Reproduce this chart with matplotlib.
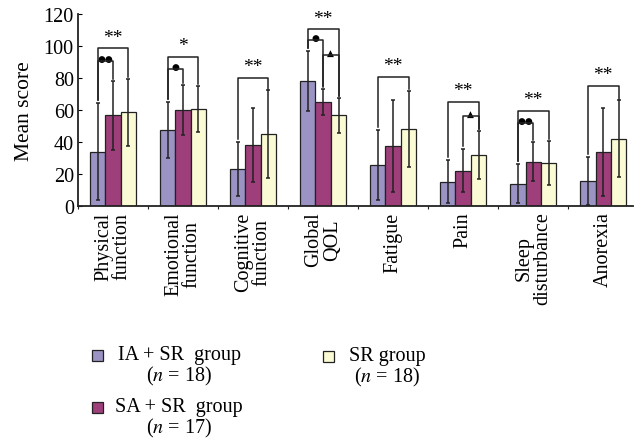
import matplotlib
matplotlib.use("Agg")
import matplotlib.pyplot as plt
from matplotlib.patches import Rectangle
import numpy as np

plt.rcParams['font.family'] = ['Liberation Serif', 'DejaVu Sans']
plt.rcParams['mathtext.fontset'] = 'stix'

categories = ["Physical\nfunction", "Emotional\nfunction", "Cognitive\nfunction", "Global\nQOL",
              "Fatigue", "Pain", "Sleep\ndisturbance", "Anorexia"]
ia_mean = [34, 47.6, 23, 78, 25.5, 15.2, 14, 15.7]
ia_sd = [30.3, 17.4, 16.7, 18.9, 21.7, 13.3, 12.2, 14.8]
sa_mean = [56.8, 60, 38.4, 65.1, 37.4, 22.1, 27.8, 34]
sa_sd = [21.5, 15.8, 23.1, 8.1, 28.9, 13.3, 12.3, 27.5]
sr_mean = [58.5, 60.8, 44.9, 56.8, 48, 32, 27.1, 42]
sr_sd = [20.9, 14.5, 27.3, 11, 23.9, 14.9, 13.7, 24]
group_labels = ["IA + SR  group\n($n$ = 18)", "SA + SR  group\n($n$ = 17)", "SR group\n($n$ = 18)"]
colors = ["#9a93c4", "#9e3f7b", "#fafad4"]

# (category, bar a, bar b, bracket height, mark)
brackets = [(0, 0, 2, 98.7, "**"), (0, 0, 1, 90.8, "●●"),
            (1, 0, 2, 93.3, "*"), (1, 0, 1, 85.8, "●"),
            (2, 0, 2, 80.2, "**"),
            (3, 0, 2, 110.6, "**"), (3, 0, 1, 104, "●"), (3, 1, 2, 94.6, "▲"),
            (4, 0, 2, 80.8, "**"),
            (5, 0, 2, 65.1, "**"), (5, 1, 2, 56, "▲"),
            (6, 0, 2, 59.5, "**"), (6, 0, 1, 51.8, "●●"),
            (7, 0, 2, 75.2, "**")]

means = [ia_mean, sa_mean, sr_mean]
sds = [ia_sd, sa_sd, sr_sd]

fig = plt.figure(figsize=(6.34, 4.39), dpi=100)
ax = fig.add_axes([0.123, 0.5285, 0.876, 0.4373])

x = np.arange(len(categories))
w = 0.22
for k in range(3):
    ax.bar(x + (k - 1) * w, means[k], w, color=colors[k], edgecolor="#222222",
           linewidth=0.9, zorder=2)
    ax.errorbar(x + (k - 1) * w, means[k], yerr=sds[k], fmt="none", ecolor="#222222",
                elinewidth=1.1, capsize=1.5, capthick=1.1, zorder=3)

for c, a, bb, h, mark in brackets:
    xa = c + (a - 1) * w
    xb = c + (bb - 1) * w
    ya = means[a][c] + sds[a][c] + 2
    yb = means[bb][c] + sds[bb][c] + 1
    ax.plot([xa, xa, xb, xb], [ya, h, h, yb], color="#222222", lw=1.1,
            clip_on=False, zorder=4)
    if "*" in mark:
        ax.text((xa + xb) / 2, h + 1.5, mark, ha="center", va="bottom", fontsize=14,
                clip_on=False)
    else:
        ax.text((xa + xb) / 2, h - 1.2, mark, ha="center", va="bottom", fontsize=6.5,
                family=["DejaVu Sans"], clip_on=False)

ax.set_xlim(-0.5, 7.43)
ax.set_ylim(0, 120)
ax.set_yticks(range(0, 121, 20))
ax.set_xticks(np.arange(-0.5, 7.5, 1))
ax.set_xticklabels([])
ax.set_xticks(x, minor=True)
ax.set_xticklabels(categories, minor=True, rotation=90, fontsize=14.5, va="top",
                   ha="center", multialignment="center", linespacing=0.95)
ax.tick_params(axis="x", which="minor", length=0, pad=4)
ax.tick_params(axis="x", which="major", length=2, direction="out", color="#222222")
ax.tick_params(axis="y", direction="in", length=3, labelsize=14.5, pad=3)
ax.spines["top"].set_visible(False)
ax.spines["right"].set_visible(False)
for s in ["left", "bottom"]:
    ax.spines[s].set_linewidth(1.3)
    ax.spines[s].set_color("#222222")
ax.set_ylabel("Mean score", fontsize=15.5, labelpad=7)

fig.text(0.5, 1.016, "Mean QLQ-C30 scores after therapy in each study group", ha="center",
         va="baseline", fontsize=15)

# legend, drawn in figure pixels
W, H = 634, 439
legend_pos = [(92, 351, 179), (92, 403, 179), (323, 352, 387)]
for k, (px, py, tx) in enumerate(legend_pos):
    fig.patches.append(Rectangle((px / W, 1 - (py + 11) / H), 11 / W, 11 / H,
                                 transform=fig.transFigure, facecolor=colors[k],
                                 edgecolor="#222222", linewidth=0.9))
    fig.text(tx / W, 1 - (py - 5) / H, group_labels[k], ha="center", va="top",
             fontsize=14.5, multialignment="center", linespacing=1.0)

fig.savefig("out.png", dpi=100)
